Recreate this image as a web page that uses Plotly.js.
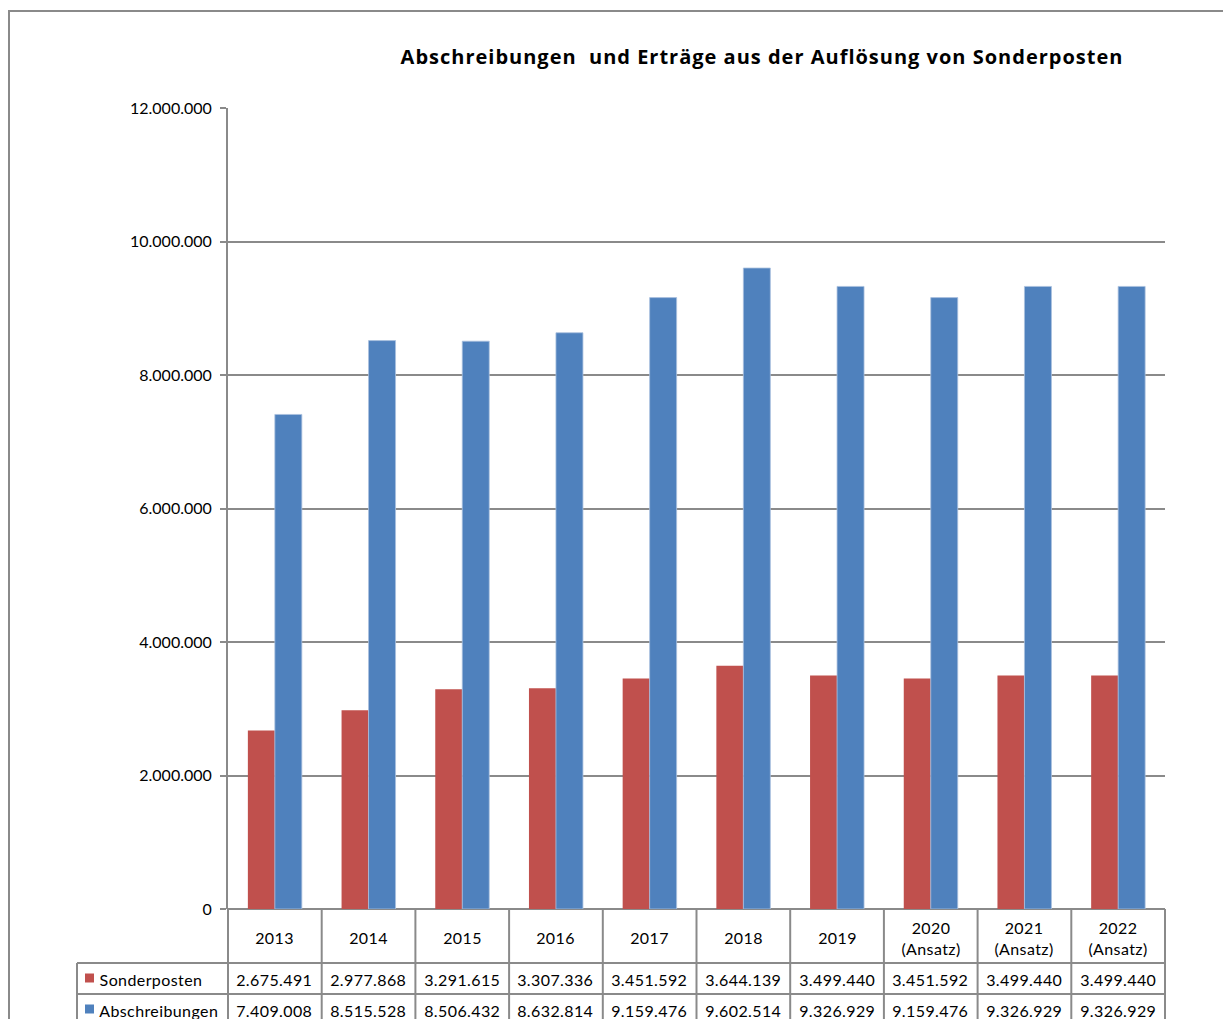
<!DOCTYPE html>
<html>
<head>
<meta charset="utf-8">
<script src="https://cdn.plot.ly/plotly-3.0.1.min.js"></script>
<style>
html,body{margin:0;padding:0;background:#fff;}
#chart{width:1223px;height:1019px;}
#chart .gtitle{letter-spacing:1px;}
#chart .annotation-text{letter-spacing:0.4px;}
</style>
</head>
<body>
<div id="chart"></div>
<script>
// ---- data ----
const years = ['2013','2014','2015','2016','2017','2018','2019','2020','2021','2022'];
const headerLabels = ['2013','2014','2015','2016','2017','2018','2019','2020<br>(Ansatz)','2021<br>(Ansatz)','2022<br>(Ansatz)'];
const seriesNames = ['Sonderposten','Abschreibungen'];
const sonderposten = [2675491, 2977868, 3291615, 3307336, 3451592, 3644139, 3499440, 3451592, 3499440, 3499440];
const abschreibungen = [7409008, 8515528, 8506432, 8632814, 9159476, 9602514, 9326929, 9159476, 9326929, 9326929];
const titleText = 'Abschreibungen&nbsp; und Erträge aus der Auflösung von Sonderposten';

// ---- styling / layout geometry ----
const W = 1223, H = 1019;
const L = 228, R = 1165, T = 108, B = 909;
const PW = R - L, PH = B - T;
const colors = ['#C0504D', '#4F81BD'];
const gridCol = '#8a8a8a';
const FONT = 'Lato, "Open Sans", sans-serif';

function fmt(n){ return String(Math.round(n)).replace(/\B(?=(\d{3})+(?!\d))/g, '.'); }
const px2x = p => (p - L) / PW;
const py2y = p => (B - p) / PH;

const traces = [
  {type:'bar', name:seriesNames[0], x:years, y:sonderposten, marker:{color:colors[0]}, hoverinfo:'skip'},
  {type:'bar', name:seriesNames[1], x:years, y:abschreibungen, marker:{color:colors[1], line:{color:'#a9c0de', width:0.8}}, hoverinfo:'skip'}
];

const shapes = [];
const annotations = [];
const line = (x0,y0,x1,y1) => shapes.push({type:'line', xref:'paper', yref:'paper', x0:x0, y0:y0, x1:x1, y1:y1, line:{color:gridCol, width:2}, layer:'above'});

// outer frame
shapes.push({type:'rect', xref:'paper', yref:'paper', x0:px2x(9), y0:py2y(11), x1:px2x(1240), y1:py2y(1040), line:{color:gridCol, width:2}, layer:'below'});

// table grid
const n = years.length;
const rowTop1 = 963, rowTop2 = 994, bottom = 1040;
line(px2x(77), py2y(rowTop1), 1, py2y(rowTop1));
line(px2x(77), py2y(rowTop2), 1, py2y(rowTop2));
line(px2x(77), py2y(rowTop1), px2x(77), py2y(bottom));
for (let k = 0; k <= n; k++) line(k/n, 0, k/n, py2y(bottom));

// header labels & values (x by category index on the category axis)
const tfont = {family: FONT, size: 16, color: '#000'};
for (let i = 0; i < n; i++) {
  annotations.push({xref:'x', yref:'paper', x:i, y:py2y(937.5), text:headerLabels[i], showarrow:false, font:tfont, xanchor:'center', yanchor:'middle'});
  annotations.push({xref:'x', yref:'paper', x:i, y:py2y(979.5), text:fmt(sonderposten[i]), showarrow:false, font:tfont, xanchor:'center', yanchor:'middle'});
  annotations.push({xref:'x', yref:'paper', x:i, y:py2y(1010.5), text:fmt(abschreibungen[i]), showarrow:false, font:tfont, xanchor:'center', yanchor:'middle'});
}
// legend keys in table
[979.5, 1010.5].forEach((cy, j) => {
  shapes.push({type:'rect', xref:'paper', yref:'paper', x0:px2x(85), x1:px2x(94), y0:py2y(cy-6), y1:py2y(cy+3), fillcolor:colors[j], line:{width:0}, layer:'above'});
  annotations.push({xref:'paper', yref:'paper', x:px2x(100), y:py2y(cy), text:seriesNames[j], showarrow:false, font:tfont, xanchor:'left', yanchor:'middle'});
});

const layout = {
  width: W, height: H,
  margin: {l: L, r: W - R, t: T, b: H - B, pad: 0},
  paper_bgcolor: '#fff', plot_bgcolor: '#fff',
  separators: ',.',
  showlegend: false,
  barmode: 'group', bargap: 0.424, bargroupgap: 0,
  title: {text: '<b>' + titleText + '</b>', xref: 'container', yref: 'container', x: 762 / W, y: 1 - 57 / H, xanchor: 'center', yanchor: 'middle', font: {family: '"Open Sans", sans-serif', size: 20, color: '#000'}},
  xaxis: {type: 'category', range: [-0.5, n - 0.5], showticklabels: false, ticks: '', showgrid: false, zeroline: false, showline: false, fixedrange: true},
  yaxis: {range: [0, 12000000], dtick: 2000000, tick0: 0, tickformat: ',.0f', showgrid: true, gridcolor: gridCol, gridwidth: 2,
          zeroline: true, zerolinecolor: gridCol, zerolinewidth: 2, showline: true, linecolor: gridCol, linewidth: 2,
          ticks: 'outside', ticklen: 6, tickcolor: gridCol, tickwidth: 2, ticklabelstandoff: 5,
          tickfont: {family: FONT, size: 16, color: '#000'}, fixedrange: true},
  shapes: shapes,
  annotations: annotations
};

Plotly.newPlot('chart', traces, layout, {displayModeBar: false, staticPlot: true});
</script>
</body>
</html>
